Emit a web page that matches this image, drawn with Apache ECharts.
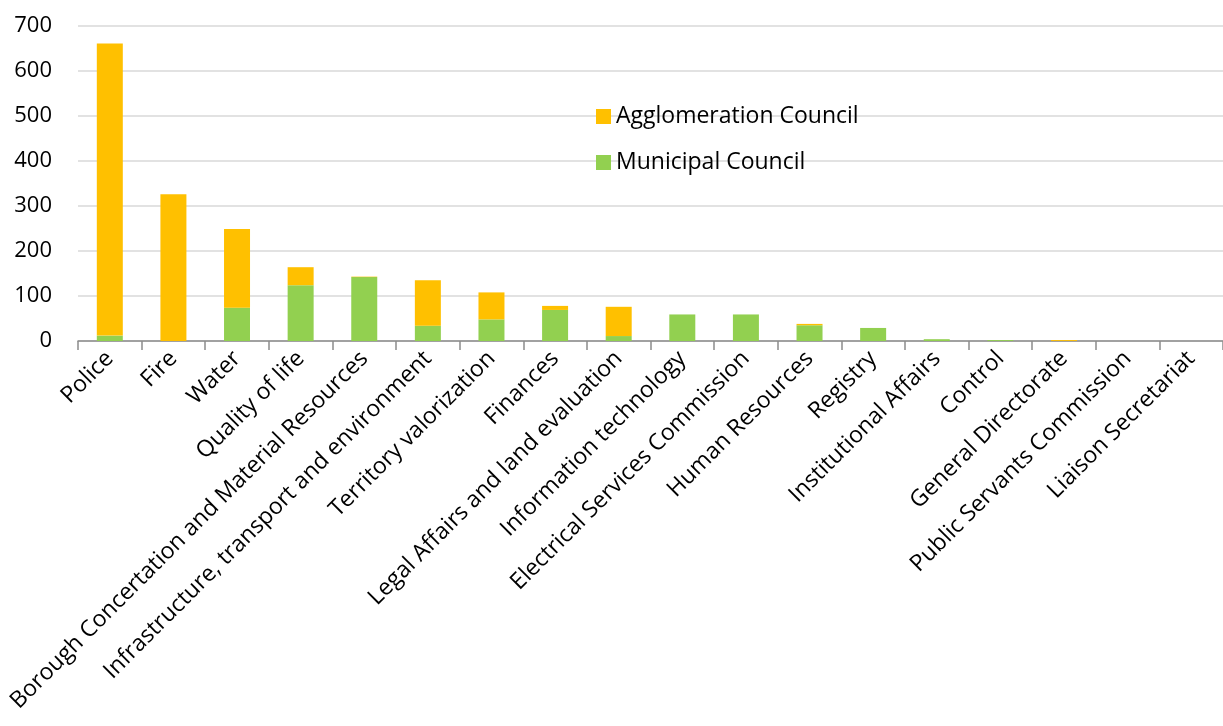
<!DOCTYPE html>
<html>
<head>
<meta charset="utf-8">
<script src="https://cdn.jsdelivr.net/npm/echarts@6/dist/echarts.min.js"></script>
<style>
html,body{margin:0;padding:0;background:#fff;}
#chart{width:1223px;height:726px;}
</style>
</head>
<body>
<div id="chart"></div>
<script>
// Departments, sorted by total
const categories = [
  'Police', 'Fire', 'Water', 'Quality of life',
  'Borough Concertation and Material Resources',
  'Infrastructure, transport and environment',
  'Territory valorization', 'Finances',
  'Legal Affairs and land evaluation', 'Information technology',
  'Electrical Services Commission', 'Human Resources', 'Registry',
  'Institutional Affairs', 'Control', 'General Directorate',
  'Public Servants Commission', 'Liaison Secretariat'
];
const municipalCouncil = [12, 0, 74, 124, 142, 34, 48, 69, 11, 59, 59, 35, 29, 4, 2, 0, 0, 0];
const agglomerationCouncil = [649, 326, 175, 40, 1, 101, 60, 9, 65, 0, 0, 3, 0, 0, 0, 2, 0, 0];
const yTicks = [0, 100, 200, 300, 400, 500, 600, 700];

const FONT = 'Open Sans';
const chart = echarts.init(document.getElementById('chart'));
chart.setOption({
  animation: false,
  textStyle: { fontFamily: FONT },
  grid: { left: 78, right: -11, top: 26, bottom: 385, containLabel: false },
  legend: {
    orient: 'vertical',
    left: 591, top: 100,
    itemWidth: 15, itemHeight: 15, itemGap: 23,
    icon: 'rect',
    textStyle: { fontFamily: FONT, fontSize: 23, color: '#000' },
    data: ['Agglomeration Council', 'Municipal Council']
  },
  xAxis: {
    type: 'category',
    data: categories,
    axisLine: { lineStyle: { color: '#8c8c8c', width: 1.5 } },
    axisTick: { show: true, length: 9, lineStyle: { color: '#8c8c8c', width: 1.5 } },
    axisLabel: { rotate: 45, interval: 0, fontSize: 23, color: '#000', margin: 14, fontFamily: FONT }
  },
  yAxis: {
    type: 'value',
    min: yTicks[0], max: yTicks[yTicks.length - 1], interval: 100,
    axisLine: { show: false },
    axisTick: { show: false },
    splitLine: { lineStyle: { color: '#d9d9d9', width: 1.5 } },
    axisLabel: { fontSize: 22, color: '#000', margin: 26, fontFamily: FONT }
  },
  series: [
    {
      name: 'Municipal Council', type: 'bar', stack: 'total',
      data: municipalCouncil, barWidth: 26,
      itemStyle: { color: '#92D050' }
    },
    {
      name: 'Agglomeration Council', type: 'bar', stack: 'total',
      data: agglomerationCouncil, barWidth: 26,
      itemStyle: { color: '#FFC000' }
    }
  ]
});
</script>
</body>
</html>
